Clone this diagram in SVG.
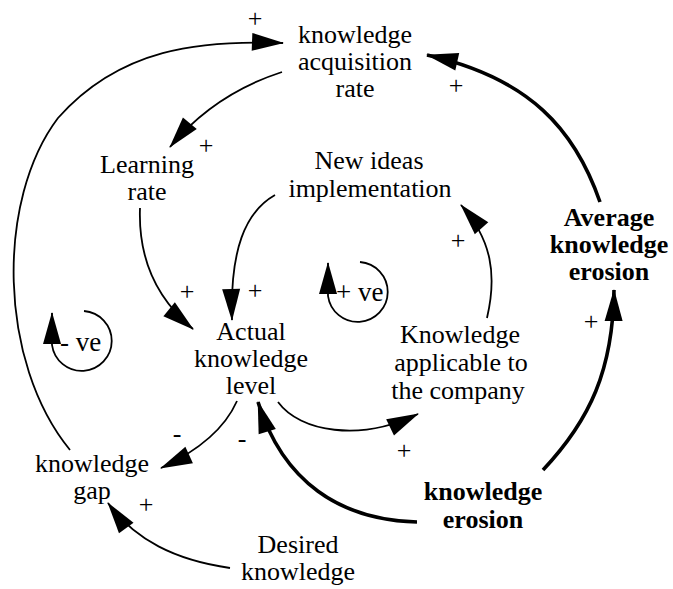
<svg xmlns="http://www.w3.org/2000/svg" width="673" height="589" viewBox="0 0 673 589">
<defs>
<style>
text{font-family:"Liberation Serif","Times New Roman",serif;fill:#000}
.n{font-size:26px;text-anchor:middle}
.b{font-weight:bold}
.s{font-size:26px;text-anchor:middle}
.l{font-size:27px}
.c{fill:none;stroke:#000}
.thin{stroke-width:1.8}
.thick{stroke-width:3.6}
</style>
<marker id="ah" markerUnits="userSpaceOnUse" viewBox="0 0 32 18" markerWidth="32" markerHeight="18" refX="31" refY="9" orient="auto" overflow="visible">
<path d="M0,0 L32,9 L0,18 Z" fill="#000"/>
</marker>
</defs>
<rect width="673" height="589" fill="#fff"/>
<g id="connectors">
<path class="c thin" marker-end="url(#ah)" d="M70,450 C-2,362 -4,200 58,118 C120,48 200,40 283,43"/>
<path class="c thin" marker-end="url(#ah)" d="M282,72 C245,84 205,105 170,147"/>
<path class="c thin" marker-end="url(#ah)" d="M140,208 C138,262 158,300 193,329"/>
<path class="c thin" marker-end="url(#ah)" d="M275,195 C245,212 230,250 232,320"/>
<path class="c thin" marker-end="url(#ah)" d="M487,318 C497,275 492,240 461,205"/>
<path class="c thin" marker-end="url(#ah)" d="M278,402 C300,432 360,442 418,414"/>
<path class="c thin" marker-end="url(#ah)" d="M237,401 C225,428 200,450 161,468"/>
<path class="c thin" marker-end="url(#ah)" d="M230,568 C175,560 135,540 108,503"/>
<path class="c thick" marker-end="url(#ah)" d="M417,522 C340,520 283,482 258,402"/>
<path class="c thick" marker-end="url(#ah)" d="M543,470 C590,420 613,370 614,290"/>
<path class="c thick" marker-end="url(#ah)" d="M600,202 C575,130 530,78 427,55"/>
<path class="c thin" marker-end="url(#ah)" d="M84,311 A30,30 0 1 1 52,345 L52,313"/>
<path class="c thin" marker-end="url(#ah)" d="M360,262 A30,30 0 1 1 328,296 L328,263"/>
<text class="s" x="255" y="27">+</text>
<text class="s" x="206" y="154">+</text>
<text class="s" x="187" y="300">+</text>
<text class="s" x="255" y="299">+</text>
<text class="s" x="456" y="94">+</text>
<text class="s" x="458" y="249">+</text>
<text class="s" x="591" y="330">+</text>
<text class="s" x="404" y="459">+</text>
<text class="s" x="146" y="513">+</text>
<text class="s" x="177" y="442">-</text>
<text class="s" x="242" y="447">-</text>
<text class="l" x="60" y="351">- ve</text>
<text class="l" x="336" y="301">+ ve</text>
</g>
<g id="knowledge-acquisition-rate">
<text class="n" x="355" y="43">knowledge</text>
<text class="n" x="355" y="70">acquisition</text>
<text class="n" x="355" y="97">rate</text>
</g>
<g id="learning-rate">
<text class="n" x="147" y="173">Learning</text>
<text class="n" x="147" y="200">rate</text>
</g>
<g id="new-ideas-implementation">
<text class="n" x="369" y="169">New ideas</text>
<text class="n" x="370" y="197">implementation</text>
</g>
<g id="average-knowledge-erosion">
<text class="n b" x="609" y="226">Average</text>
<text class="n b" x="609" y="253">knowledge</text>
<text class="n b" x="609" y="280">erosion</text>
</g>
<g id="actual-knowledge-level">
<text class="n" x="251" y="340">Actual</text>
<text class="n" x="251" y="367">knowledge</text>
<text class="n" x="251" y="394">level</text>
</g>
<g id="knowledge-applicable">
<text class="n" x="460" y="343">Knowledge</text>
<text class="n" x="461" y="371">applicable to</text>
<text class="n" x="458" y="399">the company</text>
</g>
<g id="knowledge-gap">
<text class="n" x="92" y="472">knowledge</text>
<text class="n" x="92" y="499">gap</text>
</g>
<g id="desired-knowledge">
<text class="n" x="298" y="553">Desired</text>
<text class="n" x="298" y="580">knowledge</text>
</g>
<g id="knowledge-erosion">
<text class="n b" x="483" y="500">knowledge</text>
<text class="n b" x="483" y="528">erosion</text>
</g>
</svg>
